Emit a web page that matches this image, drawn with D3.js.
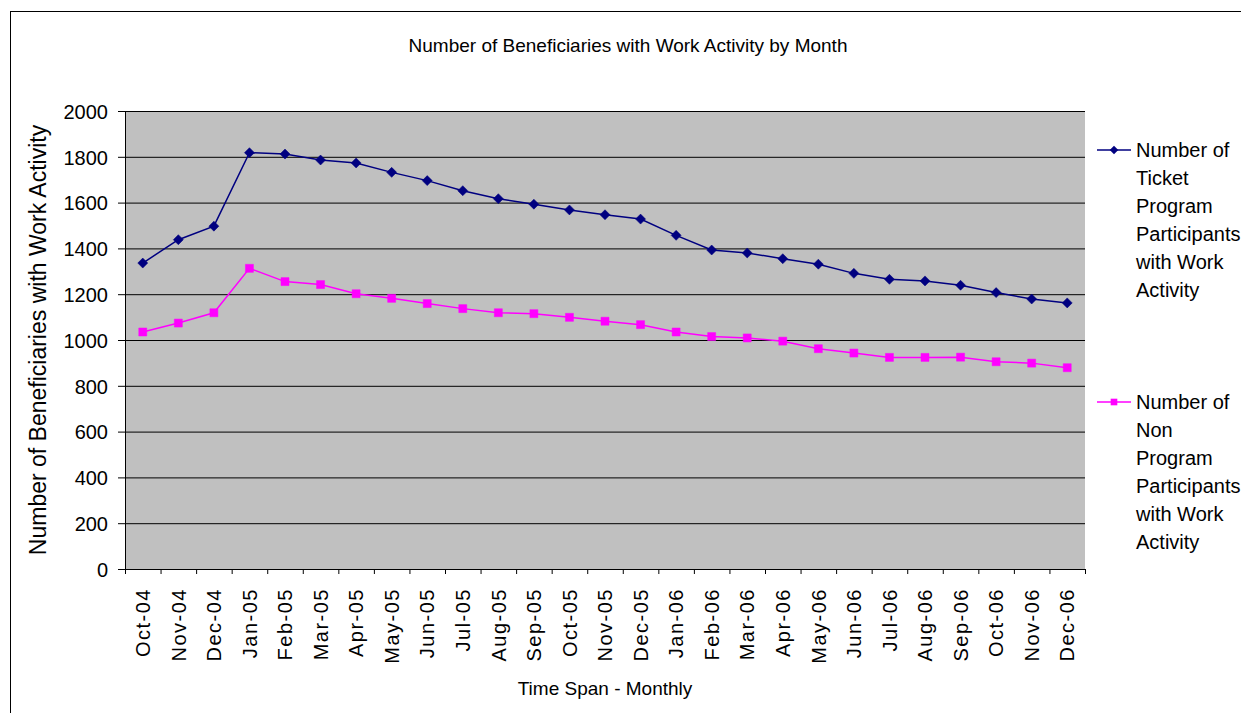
<!DOCTYPE html>
<html>
<head>
<meta charset="utf-8">
<script src="https://cdn.jsdelivr.net/npm/d3@7"></script>
<style>
  body { margin: 0; background: #fff; }
  text { font-family: "Liberation Sans", Arial, sans-serif; fill: #000; }
</style>
</head>
<body>
<svg id="chart"></svg>
<script>
// monthly counts
const months = ["Oct-04","Nov-04","Dec-04","Jan-05","Feb-05","Mar-05","Apr-05","May-05","Jun-05",
  "Jul-05","Aug-05","Sep-05","Oct-05","Nov-05","Dec-05","Jan-06","Feb-06","Mar-06","Apr-06",
  "May-06","Jun-06","Jul-06","Aug-06","Sep-06","Oct-06","Nov-06","Dec-06"]

const ticketParticipants = [1336, 1438, 1497, 1818, 1812, 1786, 1773, 1732, 1696,
  1652, 1617, 1593, 1568, 1547, 1528, 1457, 1393, 1380, 1355,
  1331, 1291, 1265, 1258, 1239, 1207, 1179, 1162]

const nonParticipants = [1035, 1074, 1119, 1313, 1255, 1242, 1202, 1182, 1159,
  1137, 1119, 1115, 1099, 1082, 1067, 1035, 1015, 1009, 995,
  962, 943, 924, 924, 925, 905, 899, 879]

const yTicks = [0, 200, 400, 600, 800, 1000, 1200, 1400, 1600, 1800, 2000]

const ticketLabel = ["Number of", "Ticket", "Program", "Participants", "with Work", "Activity"]
const nonLabel = ["Number of", "Non", "Program", "Participants", "with Work", "Activity"]

const W = 1241, H = 713
const plot = { left: 125, right: 1085, top: 111, bottom: 569 }

var svg = d3.select("#chart").attr("width", W).attr("height", H)

// outer chart frame (runs off the page on the right / bottom)
svg.append("rect")
  .attr("x", 10.5).attr("y", 11.5).attr("width", W).attr("height", H)
  .style("fill", "#fff").style("stroke", "#000").style("stroke-width", 1)

var x = d3.scaleBand().domain(months).range([plot.left, plot.right])
var xEdge = d3.scaleLinear().domain([0, months.length]).range([plot.left, plot.right])
var y = d3.scaleLinear().domain([0, 2000]).range([plot.bottom, plot.top])

// grey plot area
svg.append("rect")
  .attr("x", plot.left).attr("y", plot.top)
  .attr("width", plot.right - plot.left).attr("height", plot.bottom - plot.top)
  .style("fill", "#c0c0c0")

// horizontal gridlines
svg.append("g")
  .attr("class", "grid")
  .attr("transform", "translate(" + plot.left + ",0)")
  .call(d3.axisLeft(y).tickValues(yTicks).tickSize(-(plot.right - plot.left)).tickFormat(""))
  .call(g => g.select(".domain").remove())
  .call(g => g.selectAll("line").style("stroke", "#000").style("stroke-width", 1))

// y axis
var gY = svg.append("g")
  .attr("transform", "translate(" + plot.left + ",0)")
  .call(d3.axisLeft(y).tickValues(yTicks).tickFormat(d3.format("d")).tickSize(7).tickPadding(10))
gY.select(".domain").style("stroke", "#000")
gY.selectAll(".tick line").style("stroke", "#000")
gY.selectAll(".tick text").style("font-size", "20px").attr("dy", "0.36em")

// x axis: ticks sit on the category edges
var gX = svg.append("g")
  .attr("transform", "translate(0," + plot.bottom + ")")
  .call(d3.axisBottom(xEdge).tickValues(d3.range(0, months.length + 1)).tickSize(5).tickFormat(""))
gX.select(".domain").style("stroke", "#000")
gX.selectAll(".tick line").style("stroke", "#000")

// month labels, rotated, centred on each category
var gXL = svg.append("g")
  .attr("transform", "translate(0," + plot.bottom + ")")
  .call(d3.axisBottom(x).tickSize(0))
gXL.select(".domain").remove()
gXL.selectAll(".tick text")
  .attr("transform", "rotate(-90)")
  .attr("text-anchor", "end")
  .attr("x", -19).attr("y", 0).attr("dy", "0.36em")
  .style("font-size", "20px")
  .style("letter-spacing", "1.5px")

// series
const series = [
  { values: ticketParticipants, colour: "#000080", shape: "diamond", label: ticketLabel, ly: 150 },
  { values: nonParticipants, colour: "#ff00ff", shape: "square", label: nonLabel, ly: 402 }
]

var line = d3.line()
  .x((d, i) => x(months[i]) + x.bandwidth() / 2)
  .y(d => y(d))

series.forEach(s => {
  svg.append("path")
    .datum(s.values)
    .attr("d", line)
    .style("fill", "none")
    .style("stroke", s.colour)
    .style("stroke-width", 1.5)

  var sym = s.shape === "diamond"
    ? d3.symbol(d3.symbolSquare, 50)
    : d3.symbol(d3.symbolSquare, 64)

  svg.selectAll(null)
    .data(s.values)
    .enter()
    .append("path")
    .attr("d", sym)
    .attr("transform", (d, i) => "translate(" + (x(months[i]) + x.bandwidth() / 2) + "," + y(d) + ")"
      + (s.shape === "diamond" ? " rotate(45)" : ""))
    .style("fill", s.colour)
    .style("stroke", s.colour)
    .style("stroke-width", 0.5)

  // legend entry
  var lg = svg.append("g").attr("transform", "translate(1097," + s.ly + ")")
  lg.append("line").attr("x1", 0).attr("x2", 34).attr("y1", 0).attr("y2", 0)
    .style("stroke", s.colour).style("stroke-width", 1.5)
  lg.append("path")
    .attr("d", d3.symbol(d3.symbolSquare, s.shape === "diamond" ? 36 : 44))
    .attr("transform", "translate(17,0)" + (s.shape === "diamond" ? " rotate(45)" : ""))
    .style("fill", s.colour)
  var t = lg.append("text").style("font-size", "20px")
  t.selectAll("tspan")
    .data(s.label)
    .enter()
    .append("tspan")
    .attr("x", 39)
    .attr("y", (d, i) => i * 28)
    .attr("dy", "0.36em")
    .text(d => d)
})

// titles
svg.append("text")
  .attr("x", 628).attr("y", 45).attr("dy", "0.36em")
  .attr("text-anchor", "middle")
  .style("font-size", "19px")
  .text("Number of Beneficiaries with Work Activity by Month")

svg.append("text")
  .attr("x", 605).attr("y", 688).attr("dy", "0.36em")
  .attr("text-anchor", "middle")
  .style("font-size", "19px")
  .text("Time Span - Monthly")

svg.append("text")
  .attr("transform", "translate(38," + ((plot.top + plot.bottom) / 2) + ") rotate(-90)")
  .attr("dy", "0.36em")
  .attr("text-anchor", "middle")
  .style("font-size", "23px")
  .text("Number of Beneficiaries with Work Activity")
</script>
</body>
</html>
